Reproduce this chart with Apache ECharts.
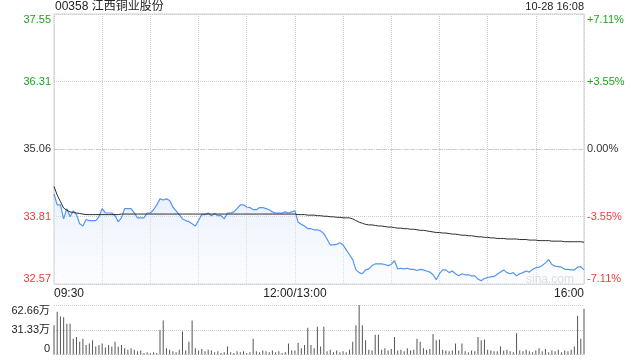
<!DOCTYPE html>
<html>
<head>
<meta charset="utf-8">
<script src="https://cdn.jsdelivr.net/npm/echarts@6/dist/echarts.min.js"></script>
<style>
html,body{margin:0;padding:0;background:#fff;}
#main{width:640px;height:360px;}
</style>
</head>
<body>
<div id="main"></div>
<script>
// ---- data ----
const stockTitle = '00358 江西铜业股份';
const stampText = '10-28 16:08';
const prevClose = 35.06;
const priceTickLabels = ['32.57', '33.81', '35.06', '36.31', '37.55'];
const pctTickLabels = ['-7.11%', '-3.55%', '0.00%', '+3.55%', '+7.11%'];
const volTickLabels = ['0', '31.33万', '62.66万'];
const volMax = 62.66;
const timeTickMinutes = [0, 150, 330];
const timeTickLabels = ['09:30', '12:00/13:00', '16:00'];
const stepMinutes = 2; // one sample every 2 trading minutes

const price = [
  34.23, 34.03, 34.03, 33.77, 33.96, 33.81, 33.92, 33.85, 33.68, 33.64,
  33.76, 33.74, 33.74, 33.74, 33.81, 33.96, 33.88, 33.88, 33.88, 33.83,
  33.72, 33.79, 33.96, 33.96, 33.96, 33.88, 33.79, 33.79, 33.79, 33.88,
  33.88, 33.94, 34.03, 34.14, 34.12, 34.14, 34.11, 33.99, 33.92, 33.85,
  33.77, 33.74, 33.72, 33.68, 33.64, 33.74, 33.85, 33.85, 33.88, 33.83,
  33.87, 33.83, 33.83, 33.77, 33.88, 33.88, 33.90, 33.96, 34.03, 34.03,
  33.99, 33.98, 33.94, 33.94, 33.98, 33.98, 33.96, 33.94, 33.90, 33.88,
  33.88, 33.88, 33.90, 33.88, 33.90, 33.92, 33.71, 33.67, 33.64, 33.59,
  33.59, 33.57, 33.57, 33.55, 33.50, 33.40, 33.29, 33.29, 33.30, 33.33,
  33.29, 33.20, 33.11, 33.02, 32.83, 32.78, 32.76, 32.83, 32.85, 32.91,
  32.94, 32.94, 32.94, 32.93, 32.91, 32.93, 33.00, 32.85, 32.86, 32.85,
  32.86, 32.84, 32.84, 32.82, 32.84, 32.83, 32.81, 32.79, 32.74, 32.65,
  32.76, 32.83, 32.83, 32.78, 32.81, 32.76, 32.72, 32.76, 32.74, 32.74,
  32.72, 32.72, 32.66, 32.63, 32.67, 32.69, 32.70, 32.71, 32.75, 32.79,
  32.83, 32.78, 32.76, 32.78, 32.72, 32.76, 32.78, 32.81, 32.79, 32.84,
  32.87, 32.88, 32.91, 32.96, 33.02, 32.93, 32.90, 32.89, 32.88, 32.84,
  32.84, 32.83, 32.83, 32.88, 32.89, 32.83
];

const avgPrice = [
  34.37, 34.21, 34.09, 33.97, 33.93, 33.90, 33.89, 33.88, 33.87, 33.86,
  33.85, 33.85, 33.85, 33.85, 33.85, 33.85, 33.85, 33.85, 33.85, 33.85,
  33.85, 33.86, 33.86, 33.86, 33.86, 33.86, 33.86, 33.86, 33.86, 33.86,
  33.86, 33.86, 33.86, 33.86, 33.86, 33.86, 33.86, 33.86, 33.86, 33.86,
  33.86, 33.86, 33.86, 33.86, 33.86, 33.86, 33.86, 33.86, 33.86, 33.86,
  33.86, 33.86, 33.86, 33.86, 33.86, 33.86, 33.86, 33.86, 33.86, 33.86,
  33.86, 33.86, 33.86, 33.86, 33.86, 33.86, 33.86, 33.86, 33.86, 33.86,
  33.86, 33.86, 33.86, 33.86, 33.86, 33.86, 33.85, 33.85, 33.85, 33.84,
  33.84, 33.84, 33.83, 33.83, 33.82, 33.82, 33.81, 33.81, 33.80, 33.80,
  33.79, 33.79, 33.79, 33.77, 33.74, 33.71, 33.69, 33.67, 33.66, 33.66,
  33.65, 33.64, 33.64, 33.63, 33.62, 33.62, 33.61, 33.60, 33.60, 33.59,
  33.59, 33.58, 33.58, 33.57, 33.56, 33.56, 33.55, 33.54, 33.53, 33.52,
  33.52, 33.51, 33.51, 33.50, 33.49, 33.49, 33.48, 33.47, 33.47, 33.46,
  33.46, 33.45, 33.44, 33.44, 33.43, 33.43, 33.42, 33.42, 33.41, 33.41,
  33.41, 33.40, 33.40, 33.40, 33.40, 33.39, 33.39, 33.39, 33.38, 33.38,
  33.38, 33.37, 33.37, 33.37, 33.37, 33.36, 33.36, 33.36, 33.36, 33.35,
  33.35, 33.35, 33.35, 33.35, 33.35, 33.34
];

// volume in 万 shares
const volume = [
  37, 54, 48, 47, 39, 39, 20, 22, 16, 20,
  12, 14, 18, 10, 12, 14, 9, 12, 10, 16,
  10, 12, 8, 6, 8, 6, 4, 5, 2, 3,
  2, 3, 2, 31, 43, 8, 6, 4, 3, 6,
  29, 5, 16, 43, 8, 5, 7, 4, 6, 5,
  3, 4, 2, 3, 10, 3, 2, 4, 3, 4,
  2, 3, 20, 4, 3, 5, 4, 3, 5, 3,
  4, 2, 3, 14, 5, 5, 15, 8, 12, 34,
  12, 8, 35, 10, 35, 4, 6, 3, 5, 3,
  4, 3, 6, 16, 37, 62.66, 37, 18, 6, 5,
  25, 25, 6, 8, 5, 7, 22, 5, 6, 4,
  8, 5, 6, 20, 16, 8, 6, 7, 26, 18,
  19, 6, 5, 4, 5, 14, 5, 14, 4, 3,
  5, 4, 22, 18, 19, 6, 5, 4, 4, 10,
  5, 6, 4, 3, 27, 5, 4, 6, 4, 3,
  5, 8, 4, 7, 3, 5, 4, 6, 3, 5,
  4, 6, 10, 49, 20, 58
];

// ---- chart ----
const FONT = "'Liberation Sans', Arial, 'Noto Sans CJK SC', sans-serif";
const GREEN = '#1fa21f';
const RED = '#f03a3a';
const halfRange = 2.49;      // 37.55 - 35.06
const tickStep = halfRange / 2;

function tickIndex(v) { return Math.round((Number(v) + halfRange) / tickStep); }
function priceColor(v) {
  const i = tickIndex(v);
  return i > 2 ? GREEN : (i < 2 ? RED : '#333');
}

const priceSeries = price.map((p, i) => [i * stepMinutes, +(p - prevClose).toFixed(4)]);
const avgSeries = avgPrice.map((p, i) => [i * stepMinutes, +(p - prevClose).toFixed(4)]);
const volSeries = volume.map((v, i) => [i * stepMinutes, v]);

const chart = echarts.init(document.getElementById('main'), null, { renderer: 'canvas' });

const xBase = {
  type: 'value', min: 0, max: 330, interval: 30,
  axisTick: { show: false },
};

chart.setOption({
  animation: false,
  textStyle: { fontFamily: FONT },
  grid: [
    { left: 54, right: 56, top: 14, height: 270, show: true, borderColor: '#cfcfcf', borderWidth: 1 },
    { left: 54, right: 56, top: 305, height: 49.5 }
  ],
  xAxis: [
    Object.assign({}, xBase, {
      gridIndex: 0,
      axisLine: { show: false },
      splitLine: { show: true, lineStyle: { color: '#cccccc', type: 'dotted', width: 1 } },
      axisLabel: {
        show: true, color: '#222', fontSize: 12, margin: 4, fontFamily: FONT,
        showMinLabel: true, showMaxLabel: true,
        alignMinLabel: 'left', alignMaxLabel: 'right',
        formatter: function (v) {
          const i = timeTickMinutes.indexOf(Number(v));
          return i >= 0 ? timeTickLabels[i] : '';
        }
      }
    }),
    Object.assign({}, xBase, {
      gridIndex: 1,
      axisLine: { show: false },
      splitLine: { show: false },
      axisLabel: { show: false }
    })
  ],
  yAxis: [
    {
      type: 'value', gridIndex: 0, min: -halfRange, max: halfRange, interval: tickStep,
      axisLine: { show: false }, axisTick: { show: false },
      splitLine: { show: true, lineStyle: { color: '#cccccc', type: 'dotted' } },
      axisLabel: {
        fontSize: 11, margin: 3, fontFamily: FONT,
        verticalAlignMinLabel: 'bottom', verticalAlignMaxLabel: 'top',
        color: function (v) { return priceColor(v); },
        formatter: function (v) { return priceTickLabels[tickIndex(v)]; }
      }
    },
    {
      type: 'value', gridIndex: 0, position: 'right', min: -halfRange, max: halfRange, interval: tickStep,
      axisLine: { show: false }, axisTick: { show: false },
      splitLine: { show: false },
      axisLabel: {
        fontSize: 11, margin: 3, fontFamily: FONT,
        verticalAlignMinLabel: 'bottom', verticalAlignMaxLabel: 'top',
        color: function (v) { return priceColor(v); },
        formatter: function (v) { return pctTickLabels[tickIndex(v)]; }
      }
    },
    {
      type: 'value', gridIndex: 1, min: 0, max: volMax, interval: volMax / 2,
      axisLine: { show: false }, axisTick: { show: false },
      splitLine: { show: true, lineStyle: { color: '#cfcfcf', type: 'dotted' } },
      axisLabel: {
        fontSize: 11, margin: 4, color: '#222', fontFamily: FONT,
        verticalAlignMinLabel: 'bottom', verticalAlignMaxLabel: 'top',
        formatter: function (v) { return volTickLabels[Math.round(Number(v) / (volMax / 2))]; }
      }
    }
  ],
  series: [
    {
      type: 'line', xAxisIndex: 0, yAxisIndex: 0, data: priceSeries,
      showSymbol: false, symbol: 'none', smooth: false,
      lineStyle: { color: '#5595ee', width: 1.2 },
      areaStyle: {
        origin: 'start',
        color: new echarts.graphic.LinearGradient(0, 0, 0, 1, [
          { offset: 0, color: 'rgba(214,228,250,0.75)' },
          { offset: 1, color: 'rgba(246,249,255,0.5)' }
        ])
      },
      z: 3
    },
    {
      type: 'line', xAxisIndex: 0, yAxisIndex: 0, data: avgSeries,
      showSymbol: false, symbol: 'none',
      lineStyle: { color: '#2b2b2b', width: 1 },
      markLine: {
        silent: true, symbol: 'none', label: { show: false },
        lineStyle: { color: '#cccccc', type: [4, 3], width: 1 },
        data: [{ yAxis: 0 }]
      },
      z: 4
    },
    {
      type: 'bar', xAxisIndex: 1, yAxisIndex: 2, data: volSeries,
      barWidth: 1, itemStyle: { color: '#555' }
    }
  ],
  graphic: [
    { type: 'text', left: 55, top: 1, style: { text: stockTitle, fontSize: 12, fill: '#222', fontFamily: FONT } },
    { type: 'text', right: 56, top: 1, style: { text: stampText, fontSize: 11, fill: '#222', fontFamily: FONT } },
    { type: 'text', right: 66, top: 274, style: { text: 'sina.com', fontSize: 12, fill: '#cfcfcf', fontFamily: FONT } }
  ]
});
</script>
</body>
</html>
